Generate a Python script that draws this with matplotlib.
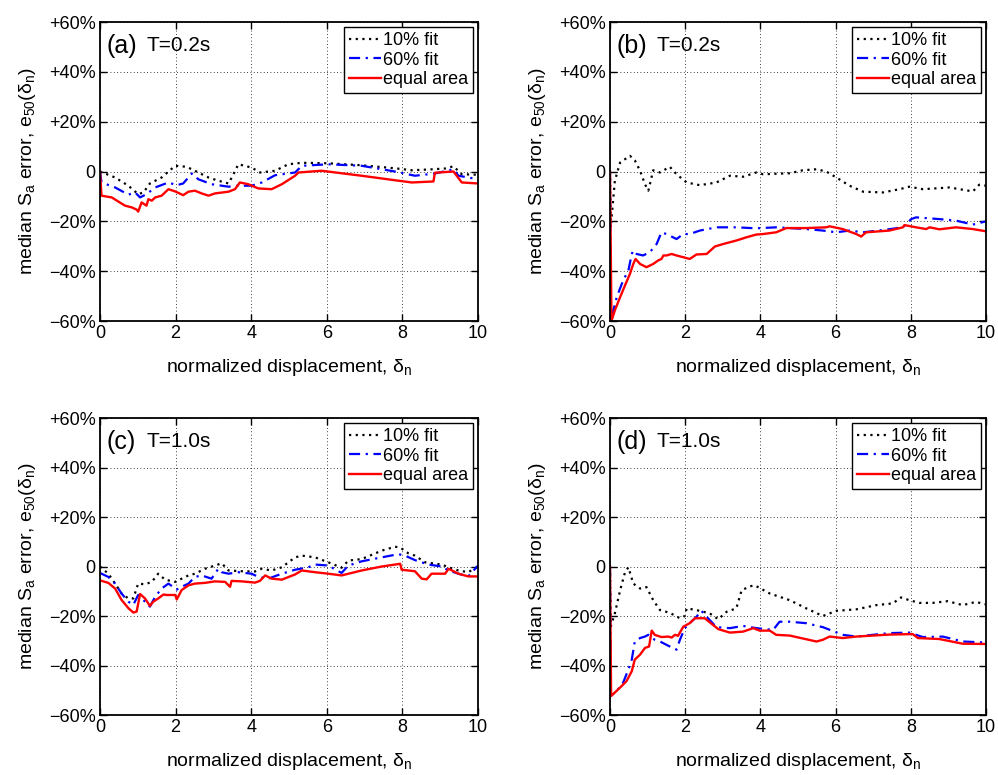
import matplotlib
matplotlib.use("Agg")
import matplotlib.pyplot as plt

plt.rcParams['font.family'] = ['Liberation Sans', 'DejaVu Sans']
plt.rcParams['mathtext.fontset'] = 'custom'
plt.rcParams['mathtext.rm'] = 'Liberation Sans'
plt.rcParams['mathtext.it'] = 'Liberation Sans:italic'

# ---- panel (a) T=0.2s ----
a_fit10_x = [0, 0.40, 0.75, 1.01, 1.15, 1.32, 1.63, 1.85, 1.99, 2.29, 2.51, 2.87, 3.13, 3.40, 3.53, 3.66,
             4.01, 4.23, 4.63, 4.98, 5.34, 6.04, 6.92, 7.80, 8.25, 8.69, 9.13, 9.35, 9.57, 10.0]
a_fit10_y = [0, -2.4, -5.7, -9.1, -8.4, -4.8, -2.4, 0.5, 2.3, 1.9, 0.3, -2.4, -3.7, -4.8, -1.1, 2.9,
             1.6, -0.4, 0.3, 2.9, 3.5, 3.3, 2.5, 1.3, 0.5, 0.8, 1.2, 2.1, -1.1, -1.3]
a_fit60_x = [0, 0.04, 0.40, 0.75, 0.93, 1.06, 1.23, 1.46, 1.81, 2.03, 2.20, 2.43, 2.60, 2.95, 3.40, 3.66,
             4.01, 4.28, 4.63, 5.16, 5.34, 6.04, 6.92, 7.80, 8.33, 8.86, 9.35, 9.48, 10.0]
a_fit60_y = [0, -4.4, -6.4, -9.3, -8.4, -10.4, -9.1, -6.4, -4.4, -5.5, -4.8, -0.8, -3.1, -5.1, -6.1, -5.7,
             -5.7, -4.4, -1.5, -0.4, 2.3, 2.9, 2.3, 0, -1.7, -0.8, 0.9, -1.7, -3.1]
a_eq_x = [0, 0.04, 0.31, 0.66, 0.84, 0.97, 1.01, 1.10, 1.23, 1.28, 1.37, 1.46, 1.63, 1.81, 1.99, 2.20,
          2.34, 2.51, 2.69, 2.87, 3.04, 3.40, 3.57, 3.70, 3.92, 4.19, 4.54, 4.81, 5.16, 5.25, 5.86,
          6.92, 7.80, 8.25, 8.82, 8.86, 9.35, 9.57, 10.0]
a_eq_y = [0, -9.7, -10.4, -13.7, -14.4, -15.3, -16.1, -12.4, -13.7, -11.1, -11.7, -10.4, -9.7, -7.1, -8.0, -9.5,
          -8.1, -7.7, -8.8, -9.7, -8.8, -8.1, -7.1, -4.4, -5.1, -6.8, -7.1, -5.1, -1.7, -0.4, 0.3,
          -1.7, -3.5, -4.4, -4.0, -0.5, 0, -4.4, -4.8]

# ---- panel (b) T=0.2s ----
b_fit10_x = [0, 0.02, 0.13, 0.27, 0.53, 0.66, 0.80, 0.93, 1.02, 1.15, 1.33, 1.59, 1.77, 2.04, 2.39, 2.83,
             3.19, 3.54, 3.89, 4.07, 4.78, 5.13, 5.49, 5.75, 6.02, 6.37, 6.73, 7.26, 7.70, 7.96, 8.32,
             9.03, 9.65, 9.82, 10.0]
b_fit10_y = [0, -22.4, -3.7, 3.6, 6.3, 4.5, 0.3, -5.1, -7.7, 0.5, -0.4, 1.9, -1.1, -4.4, -5.5, -4.4,
             -1.7, -2.1, -0.4, -1.1, -0.7, 0.5, 0.9, 0, -2.4, -5.7, -8.1, -8.4, -7.1, -6.1, -7.1,
             -6.4, -8.0, -5.3, -5.7]
b_fit60_x = [0, 0.02, 0.09, 0.18, 0.35, 0.49, 0.58, 0.62, 0.71, 0.88, 1.06, 1.24, 1.37, 1.50, 1.77, 1.95,
             2.12, 2.39, 2.83, 3.36, 3.89, 4.42, 4.78, 5.22, 5.66, 6.02, 6.37, 6.73, 7.26, 7.79, 8.01,
             8.14, 8.76, 9.20, 9.65, 10.0]
b_fit60_y = [0, -58.4, -55.7, -50.4, -43.7, -39.7, -33.1, -31.7, -33.1, -33.7, -32.4, -29.1, -24.4, -25.1, -27.1, -25.1,
             -25.1, -23.7, -22.4, -22.4, -22.8, -22.4, -22.7, -23.1, -23.7, -24.4, -23.7, -24.4, -23.5, -22.4, -19.1,
             -18.4, -19.1, -19.7, -21.3, -20.0]
b_eq_x = [0, 0.04, 0.13, 0.27, 0.40, 0.53, 0.62, 0.68, 0.80, 0.97, 1.15, 1.28, 1.37, 1.42, 1.50, 1.64,
          1.77, 1.95, 2.12, 2.30, 2.57, 2.79, 3.01, 3.36, 3.63, 3.89, 4.07, 4.42, 4.69, 5.22, 5.75,
          5.84, 6.19, 6.55, 6.68, 6.81, 7.43, 7.79, 7.83, 8.14, 8.41, 8.50, 8.76, 9.20, 9.65, 10.0]
b_eq_y = [0, -60, -55.7, -50.4, -45.7, -41.1, -37.1, -35.1, -37.1, -38.4, -37.1, -35.7, -35.1, -33.7, -33.7, -33.1,
          -33.7, -34.4, -35.1, -33.3, -33.1, -30.1, -29.1, -27.7, -26.4, -25.3, -25.1, -24.4, -22.7, -22.7, -22.4,
          -22.0, -23.1, -25.1, -26.1, -24.4, -23.7, -22.4, -21.5, -22.4, -23.1, -22.4, -23.2, -22.4, -23.1, -24.0]

# ---- panel (c) T=1.0s ----
c_fit10_x = [0, 0.22, 0.40, 0.57, 0.75, 0.88, 1.01, 1.19, 1.37, 1.54, 1.72, 1.99, 2.16, 2.34, 2.51, 2.78,
             3.04, 3.22, 3.40, 3.75, 4.10, 4.28, 4.54, 4.81, 5.16, 5.34, 5.69, 6.04, 6.39, 6.57, 6.92,
             7.45, 7.80, 7.94, 8.16, 8.33, 8.60, 9.04, 9.22, 9.48, 9.74, 10.0]
c_fit10_y = [0, -2.9, -6.9, -10.9, -12.9, -12.9, -6.9, -7.2, -6.2, -2.9, -5.3, -6.2, -4.9, -3.6, -2.9, -0.9,
             0.4, 1.3, -1.6, -1.9, -2.0, -0.9, -1.6, -0.3, 3.7, 4.4, 3.7, 1.7, -0.5, 2.4, 3.0,
             6.4, 8.0, 7.7, 5.3, 4.4, 1.7, 0.8, -0.3, -1.6, -2.3, 0]
c_fit60_x = [0, 0.22, 0.40, 0.57, 0.75, 0.88, 1.01, 1.19, 1.32, 1.46, 1.63, 1.81, 2.03, 2.16, 2.34, 2.51,
             2.69, 2.95, 3.13, 3.22, 3.40, 3.66, 4.01, 4.19, 4.45, 4.81, 5.16, 5.51, 5.69, 6.04, 6.39,
             6.57, 6.92, 7.45, 7.89, 8.07, 8.33, 8.69, 9.04, 9.22, 9.48, 9.74, 10.0]
c_fit60_y = [-2.6, -4.2, -6.9, -10.9, -14.2, -15.5, -11.5, -14.2, -16.2, -12.2, -8.9, -6.9, -9.3, -8.2, -6.9, -4.2,
             -3.6, -4.9, -0.9, -2.3, -2.9, -2.3, -2.9, -4.2, -4.9, -2.9, -1.3, -0.3, 0.8, 0.4, -2.6,
             0.4, 2.1, 3.7, 5.0, 4.4, 2.6, 0.8, 0, -1.6, -2.9, -4.0, 0.4]
c_eq_x = [0, 0.22, 0.40, 0.57, 0.75, 0.88, 0.97, 1.06, 1.19, 1.32, 1.41, 1.54, 1.68, 1.76, 1.99, 2.03,
          2.16, 2.34, 2.51, 2.78, 3.04, 3.31, 3.44, 3.48, 3.75, 4.10, 4.23, 4.37, 4.54, 4.81, 5.16,
          5.34, 5.69, 6.04, 6.39, 6.92, 7.45, 7.94, 7.98, 8.33, 8.51, 8.64, 8.77, 9.13, 9.22, 9.48,
          9.74, 10.0]
c_eq_y = [-5.6, -6.6, -8.9, -13.5, -16.8, -18.6, -18.2, -11.1, -12.9, -15.9, -14.2, -12.9, -11.3, -11.5, -11.5, -13.3,
          -9.5, -7.6, -6.9, -6.6, -6.0, -6.2, -8.2, -5.8, -6.0, -6.5, -5.8, -3.6, -4.9, -5.3, -3.2,
          -1.6, -2.3, -2.9, -3.6, -1.6, 0, 1.1, -1.3, -1.9, -4.9, -5.2, -2.9, -2.9, -0.9, -2.9,
          -4.0, -4.0]

# ---- panel (d) T=1.0s ----
d_fit10_x = [0, 0.02, 0.13, 0.27, 0.40, 0.49, 0.62, 0.80, 0.97, 1.15, 1.33, 1.59, 1.86, 1.99, 2.04, 2.30,
             2.65, 2.88, 3.10, 3.36, 3.50, 3.72, 3.85, 4.25, 4.78, 5.22, 5.66, 6.02, 6.55, 7.08, 7.52,
             7.74, 7.96, 8.23, 8.58, 8.98, 9.38, 9.73, 10.0]
d_fit10_y = [0, -24.3, -18.9, -9.6, -2.3, -0.3, -6.9, -8.9, -8.3, -13.6, -17.6, -18.7, -20.9, -20.0, -16.9, -17.6,
             -18.9, -21.3, -18.3, -16.9, -9.6, -8.0, -7.6, -10.9, -13.6, -16.9, -20.0, -17.9, -17.3, -15.6, -14.9,
             -12.5, -13.6, -14.7, -14.7, -14.0, -15.6, -14.3, -15.3]
d_fit60_x = [0, 0.02, 0.18, 0.35, 0.49, 0.58, 0.66, 0.80, 0.93, 1.02, 1.19, 1.33, 1.55, 1.77, 1.86, 1.99,
             2.12, 2.30, 2.43, 2.57, 2.83, 3.19, 3.54, 3.89, 4.34, 4.51, 4.78, 5.22, 5.66, 6.19, 6.55,
             7.43, 7.96, 8.32, 8.85, 9.38, 10.0]
d_fit60_y = [0, -52.3, -50.3, -46.9, -41.6, -37.6, -30.3, -28.9, -28.3, -27.6, -29.6, -30.3, -32.0, -33.6, -29.6, -24.9,
             -22.9, -20.3, -17.9, -20.3, -24.5, -24.9, -24.0, -24.9, -25.6, -22.3, -22.3, -22.9, -24.5, -27.6, -28.3,
             -26.9, -26.7, -28.5, -28.3, -30.3, -30.7]
d_eq_x = [0, 0.03, 0.13, 0.27, 0.44, 0.58, 0.66, 0.80, 0.93, 1.04, 1.11, 1.19, 1.37, 1.55, 1.64, 1.73,
          1.81, 1.95, 2.12, 2.26, 2.52, 2.88, 3.19, 3.54, 3.81, 3.98, 4.25, 4.42, 4.78, 5.49, 5.66,
          5.84, 6.19, 6.55, 7.43, 8.05, 8.19, 8.76, 9.38, 10.0]
d_eq_y = [0, -52.3, -50.9, -48.9, -46.3, -42.3, -37.6, -35.6, -32.9, -32.3, -25.9, -27.6, -28.5, -28.3, -28.7, -27.6,
          -28.0, -24.3, -22.9, -20.9, -20.9, -25.3, -26.7, -26.3, -24.9, -25.9, -25.9, -27.6, -27.9, -30.3, -29.6,
          -28.3, -28.9, -28.3, -27.5, -27.3, -28.9, -29.3, -31.2, -31.3]

panel_tags = ['(a)', '(b)', '(c)', '(d)']
panel_periods = ['T=0.2s', 'T=0.2s', 'T=1.0s', 'T=1.0s']
series_names = ['10% fit', '60% fit', 'equal area']
yticks = [-60, -40, -20, 0, 20, 40, 60]
ytick_labels = ['\u221260%', '\u221240%', '\u221220%', '0', '+20%', '+40%', '+60%']
xticks = [0, 2, 4, 6, 8, 10]

panels = [
    (a_fit10_x, a_fit10_y, a_fit60_x, a_fit60_y, a_eq_x, a_eq_y),
    (b_fit10_x, b_fit10_y, b_fit60_x, b_fit60_y, b_eq_x, b_eq_y),
    (c_fit10_x, c_fit10_y, c_fit60_x, c_fit60_y, c_eq_x, c_eq_y),
    (d_fit10_x, d_fit10_y, d_fit60_x, d_fit60_y, d_eq_x, d_eq_y),
]

# axes rectangles in figure fractions (left, bottom, width, height)
rects = [
    [0.1002, 0.5858, 0.3788, 0.3858],
    [0.6112, 0.5858, 0.3768, 0.3858],
    [0.1002, 0.0774, 0.3788, 0.3832],
    [0.6112, 0.0774, 0.3768, 0.3832],
]

fig = plt.figure(figsize=(9.98, 7.75), dpi=100)

for i in range(4):
    ax = fig.add_axes(rects[i])
    x10, y10, x60, y60, xeq, yeq = panels[i]
    ax.plot(x10, y10, color='black', linestyle=(0, (1, 2)), lw=1.6, label=series_names[0])
    ax.plot(x60, y60, color='blue', linestyle=(0, (5, 2.5, 1, 2.5)), lw=1.6, label=series_names[1])
    ax.plot(xeq, yeq, color='red', linestyle='-', lw=1.7, label=series_names[2])

    ax.set_xlim(0, 10)
    ax.set_ylim(-60, 60)
    ax.set_xticks(xticks)
    ax.set_yticks(yticks)
    ax.set_yticklabels(ytick_labels)
    ax.tick_params(direction='in', length=5, width=1, top=True, right=True, labelsize=13, pad=3)
    ax.grid(True, color='black', linestyle=(0, (1, 3)), lw=0.6)
    for s in ax.spines.values():
        s.set_linewidth(1.3)

    ax.set_xlabel('normalized displacement, \u03b4$_\\mathrm{n}$', fontsize=14, labelpad=11)
    ax.set_ylabel('median S$_\\mathrm{a}$ error, e$_\\mathrm{50}$(\u03b4$_\\mathrm{n}$)', fontsize=14, labelpad=8)

    ax.text(0.018, 0.92, panel_tags[i], transform=ax.transAxes, fontsize=18, va='center', ha='left')
    ax.text(0.124, 0.92, panel_periods[i], transform=ax.transAxes, fontsize=15, va='center', ha='left')

    leg = ax.legend(loc='upper right', fontsize=13, handlelength=1.8, handletextpad=0.1,
                    labelspacing=0.15, borderpad=0.25, borderaxespad=0.3,
                    fancybox=False, framealpha=1, edgecolor='black')
    leg.get_frame().set_linewidth(1.0)

fig.savefig('out.png', dpi=100)
